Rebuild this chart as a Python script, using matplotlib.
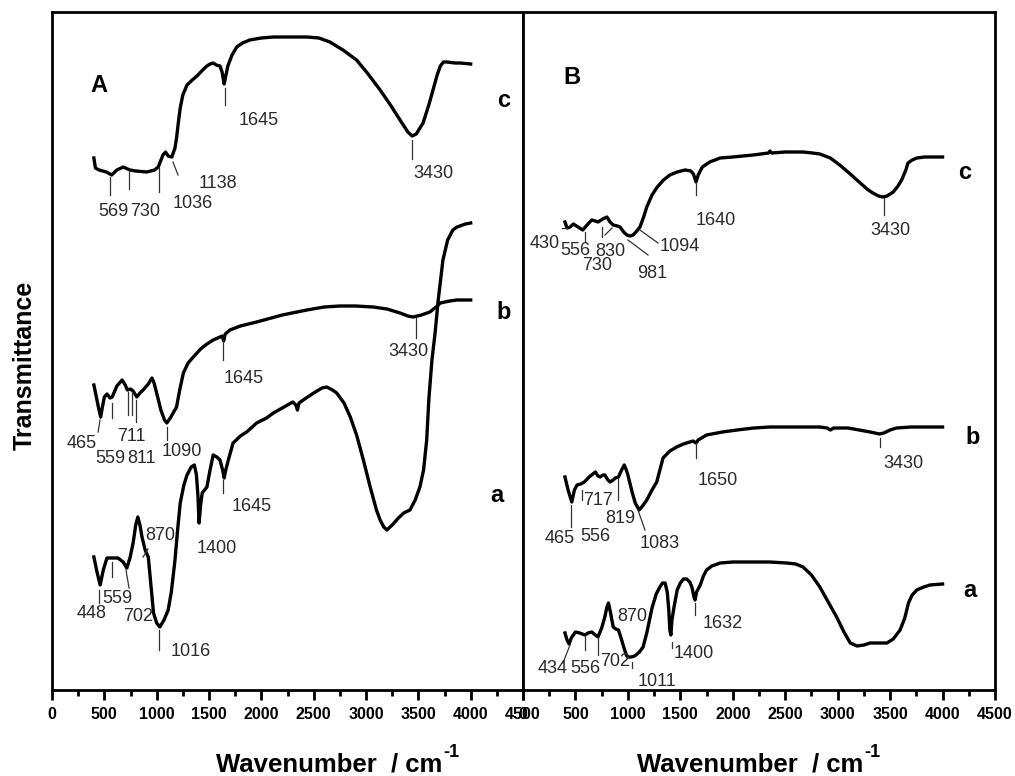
import matplotlib
matplotlib.use("Agg")
import matplotlib.pyplot as plt
from matplotlib.ticker import MultipleLocator
import numpy as np

plt.rcParams['font.family'] = ['Liberation Sans', 'DejaVu Sans']

# spectra: wavenumber (cm-1) and depth from the top of the frame (a.u.)
A_c_wn = [400, 415, 450, 520, 570, 620, 680, 745, 800, 905, 980, 1015, 1060, 1085, 1110, 1145, 1175, 1190,
          1210, 1225, 1250, 1290, 1340, 1385, 1440, 1480, 1510, 1540, 1570, 1605, 1625, 1645, 1660, 1680,
          1720, 1765, 1820, 1890, 2000, 2115, 2300, 2435, 2550, 2655, 2780, 2910, 3020, 3135, 3240, 3325,
          3400, 3440, 3480, 3545, 3600, 3640, 3680, 3710, 3740, 3770, 3850, 3900, 4000]
A_c_d = [158, 168, 170, 172, 175, 170, 167, 170, 171, 172, 170, 167, 155, 152, 156, 157, 148, 138,
         120, 108, 95, 85, 80, 76, 70, 66, 64, 63, 65, 66, 72, 84, 76, 66,
         55, 47, 43, 40, 38, 37, 37, 37, 38, 42, 50, 60, 74, 90, 106, 120,
         132, 136, 134, 123, 105, 90, 75, 66, 62, 62, 63, 63, 64]

A_b_wn = [400, 420, 445, 465, 480, 500, 525, 555, 575, 620, 670, 700, 720, 750, 775, 810, 840, 870, 920,
          955, 975, 1000, 1040, 1075, 1097, 1130, 1190, 1220, 1255, 1300, 1350, 1420, 1480, 1540, 1605,
          1625, 1640, 1655, 1700, 1800, 1955, 2200, 2435, 2600, 2750, 2900, 3070, 3200, 3325, 3400, 3450,
          3530, 3610, 3670, 3710, 3800, 3870, 4000]
A_b_d = [385, 395, 408, 417, 408, 397, 394, 398, 397, 386, 380, 385, 390, 389, 391, 397, 393, 390, 384,
         378, 383, 393, 410, 420, 423, 418, 407, 390, 373, 363, 357, 349, 344, 340, 337,
         336, 341, 334, 330, 326, 322, 315, 310, 307, 306, 306, 307, 309, 313, 316, 317,
         315, 312, 307, 303, 301, 300, 300]

A_a_wn = [400, 430, 460, 490, 525, 575, 630, 680, 715, 745, 775, 800, 820, 840, 860, 890, 920, 945, 970,
          1000, 1030, 1070, 1110, 1140, 1175, 1200, 1225, 1260, 1290, 1330, 1360, 1380, 1395, 1405, 1420,
          1435, 1480, 1510, 1540, 1575, 1605, 1630, 1645, 1660, 1690, 1730, 1800, 1860, 1955, 2050, 2115,
          2200, 2300, 2330, 2345, 2360, 2400, 2500, 2580, 2625, 2680, 2720, 2790, 2850, 2910, 2975, 3040,
          3100, 3135, 3170, 3200, 3250, 3310, 3360, 3420, 3470, 3515, 3550, 3580, 3600, 3630, 3660, 3690,
          3735, 3780, 3830, 3870, 3950, 4000]
A_a_d = [557, 572, 585, 570, 558, 558, 558, 562, 568, 558, 543, 525, 517, 525, 537, 550, 557, 585, 613,
         623, 627, 620, 610, 592, 560, 530, 503, 485, 475, 467, 465, 475, 497, 523, 505,
         493, 487, 470, 455, 457, 460, 470, 478, 470, 458, 443, 436, 432, 423, 418, 413,
         408, 402, 405, 410, 403, 400, 393, 388, 387, 390, 393, 403, 417, 435, 460, 487,
         510, 520, 527, 530, 525, 518, 513, 510, 500, 487, 470, 440, 400, 360, 333, 300,
         260, 240, 230, 227, 224, 223]

B_c_wn = [400, 420, 450, 480, 510, 540, 570, 610, 655, 690, 715, 760, 800, 830, 860, 900, 925, 960, 990,
          1020, 1050, 1085, 1115, 1150, 1180, 1230, 1280, 1340, 1400, 1470, 1545, 1600, 1625, 1650, 1670,
          1710, 1780, 1880, 2000, 2195, 2340, 2355, 2370, 2500, 2670, 2760, 2830, 2930, 3020, 3120, 3215,
          3280, 3335, 3390, 3430, 3470, 3530, 3575, 3610, 3650, 3670, 3710, 3755, 3830, 3880, 4000]
B_c_d = [222, 228, 227, 224, 226, 228, 230, 225, 220, 221, 222, 219, 217, 222, 225, 226, 227, 232, 235,
         236, 235, 231, 227, 217, 207, 195, 187, 180, 175, 172, 170, 171, 174, 182, 175,
         167, 162, 158, 157, 155, 153, 151, 153, 152, 152, 153, 154, 158, 165, 174, 183,
         189, 193, 196, 197, 196, 192, 186, 180, 170, 163, 160, 158, 157, 157, 157]

B_b_wn = [400, 430, 465, 490, 515, 550, 585, 630, 690, 715, 735, 760, 780, 810, 830, 860, 880, 910, 940,
          965, 985, 1000, 1040, 1070, 1107, 1140, 1180, 1230, 1275, 1310, 1335, 1400, 1465, 1530, 1590,
          1620, 1650, 1670, 1750, 1900, 2040, 2200, 2355, 2600, 2830, 2900, 2930, 2960, 3100, 3310, 3400,
          3440, 3500, 3560, 3700, 3785, 4000]
B_b_d = [477, 490, 502, 490, 485, 484, 482, 477, 472, 476, 477, 475, 475, 480, 482, 480, 478, 477, 470,
         465, 470, 475, 492, 503, 510, 506, 500, 490, 482, 468, 458, 451, 447, 444, 442,
         441, 443, 440, 435, 432, 430, 428, 427, 427, 427, 428, 430, 428, 428, 432, 434,
         433, 430, 428, 427, 427, 427]

B_a_wn = [400, 420, 440, 460, 500, 540, 590, 620, 655, 690, 715, 750, 780, 800, 815, 835, 860, 885, 910,
          935, 960, 985, 1000, 1030, 1065, 1110, 1145, 1180, 1230, 1270, 1305, 1330, 1355, 1375, 1390,
          1400, 1410, 1420, 1440, 1470, 1500, 1530, 1560, 1590, 1610, 1630, 1640, 1655, 1690, 1720, 1750,
          1800, 1880, 2000, 2195, 2350, 2515, 2600, 2670, 2750, 2830, 2910, 2990, 3060, 3120, 3185, 3250,
          3310, 3400, 3470, 3530, 3595, 3640, 3675, 3710, 3755, 3820, 3880, 4000]
B_a_d = [633, 640, 644, 638, 632, 633, 635, 633, 632, 635, 637, 628, 617, 607, 603, 613, 627, 629, 630,
         638, 647, 655, 657, 657, 656, 652, 647, 633, 608, 594, 587, 583, 583, 592, 610,
         630, 635, 620, 607, 590, 583, 579, 579, 582, 587, 597, 600, 592, 585, 576, 570,
         566, 563, 562, 562, 562, 563, 564, 567, 575, 587, 602, 617, 632, 643, 646, 645,
         643, 643, 643, 639, 630, 618, 603, 595, 590, 587, 585, 584]

# peak labels: text, text x (cm-1), text top (depth)
A_labels = [("569", 440, 203), ("730", 745, 203), ("1036", 1156, 195), ("1138", 1404, 175),
            ("1645", 1787, 112), ("3430", 3449, 165),
            ("465", 143, 435), ("559", 411, 450), ("711", 621, 428), ("811", 717, 450),
            ("1090", 1051, 443), ("1645", 1643, 370), ("3430", 3210, 343),
            ("448", 239, 605), ("559", 478, 590), ("702", 678, 608), ("870", 889, 527),
            ("1016", 1137, 643), ("1400", 1385, 540), ("1645", 1720, 498)]
# marker ticks: x0, depth0, x1, depth1
A_marks = [(554, 177, 554, 195), (736, 170, 736, 189), (1022, 168, 1022, 192), (1156, 162, 1204, 175),
           (1653, 88, 1653, 105), (3439, 140, 3439, 159),
           (459, 420, 440, 432), (573, 403, 573, 418), (726, 392, 726, 415), (764, 392, 764, 415),
           (803, 400, 803, 422), (1099, 427, 1099, 440), (1634, 340, 1634, 360), (3478, 318, 3478, 338),
           (449, 590, 449, 603), (573, 562, 573, 577), (707, 570, 736, 588), (870, 557, 917, 549),
           (1022, 630, 1022, 650), (1634, 480, 1634, 493)]

B_labels = [("430", 67, 235), ("556", 353, 242), ("830", 686, 243), ("730", 563, 257),
            ("981", 1087, 265), ("1094", 1306, 238), ("1640", 1649, 212), ("3430", 3308, 222),
            ("465", 210, 530), ("556", 543, 528), ("717", 572, 492), ("819", 782, 510),
            ("1083", 1115, 535), ("1650", 1668, 472), ("3430", 3432, 455),
            ("434", 143, 660), ("556", 448, 660), ("702", 734, 653), ("1011", 1096, 673),
            ("870", 896, 608), ("1400", 1440, 645), ("1632", 1716, 615)]
B_marks = [(372, 228, 419, 228), (591, 232, 591, 242), (753, 227, 753, 237), (782, 235, 849, 228),
           (1001, 240, 1192, 255), (1115, 230, 1287, 243), (1649, 182, 1649, 195), (3442, 198, 3442, 215),
           (458, 505, 458, 527), (562, 490, 562, 500), (906, 478, 906, 500), (1096, 510, 1163, 530),
           (1649, 443, 1649, 458), (3404, 438, 3404, 447),
           (448, 645, 381, 663), (591, 635, 591, 650), (715, 637, 715, 655), (1039, 662, 1039, 668),
           (1421, 642, 1421, 648), (1640, 603, 1640, 615)]

A_tags = [("A", 363, 74), ("c", 4251, 89), ("b", 4251, 301), ("a", 4185, 484)]
B_tags = [("B", 381, 66), ("c", 4147, 161), ("b", 4214, 426), ("a", 4195, 579)]


def tr(v):
    return 690 - np.asarray(v, dtype=float)


fig = plt.figure(figsize=(10.15, 7.76), dpi=100)
axA = fig.add_axes([52 / 1015, 86 / 776, 471 / 1015, 678 / 776])
axB = fig.add_axes([523 / 1015, 86 / 776, 472 / 1015, 678 / 776])

panels = [
    (axA, [(A_c_wn, A_c_d), (A_b_wn, A_b_d), (A_a_wn, A_a_d)], A_labels, A_marks, A_tags),
    (axB, [(B_c_wn, B_c_d), (B_b_wn, B_b_d), (B_a_wn, B_a_d)], B_labels, B_marks, B_tags),
]

for ax, curves, labels, marks, tags in panels:
    for wn, d in curves:
        ax.plot(wn, tr(d), color='black', lw=2.4, solid_joinstyle='round')
    for x0, d0, x1, d1 in marks:
        ax.plot([x0, x1], tr([d0, d1]), color='#333333', lw=0.9)
    for txt, x, d in labels:
        ax.text(x, tr(d), txt, fontsize=13, color='#2a2a2a', ha='left', va='top')
    for txt, x, d in tags:
        ax.text(x, tr(d), txt, fontsize=17, fontweight='bold', ha='left', va='top')

    ax.set_xlim(0, 4500)
    ax.set_ylim(0, 678)
    ax.set_yticks([])
    ax.xaxis.set_major_locator(MultipleLocator(500))
    ax.xaxis.set_minor_locator(MultipleLocator(250))
    ax.tick_params(axis='x', which='major', direction='out', length=7, width=2, pad=5,
                   labelsize=11.5)
    ax.tick_params(axis='x', which='minor', direction='out', length=4, width=2)
    for lab in ax.get_xticklabels():
        lab.set_fontweight('bold')
    for sp in ax.spines.values():
        sp.set_linewidth(2)

# x labels with a plain "-1" superscript, centred under each panel as in the original
renderer = fig.canvas.get_renderer()
for cx in (337, 758):
    t1 = fig.text(0, 5 / 776, 'Wavenumber  / cm', fontsize=18.5, fontweight='bold', va='baseline')
    t2 = fig.text(0, 19 / 776, '-1', fontsize=13, fontweight='bold', va='baseline')
    w1 = t1.get_window_extent(renderer).width
    w2 = t2.get_window_extent(renderer).width
    x0 = cx - (w1 + w2) / 2
    t1.set_x(x0 / 1015)
    t2.set_x((x0 + w1 + 1) / 1015)

fig.text(25 / 1015, 411 / 776, 'Transmittance', fontsize=18, fontweight='bold',
         rotation=90, ha='center', va='center')

fig.savefig('out.png', dpi=100)
